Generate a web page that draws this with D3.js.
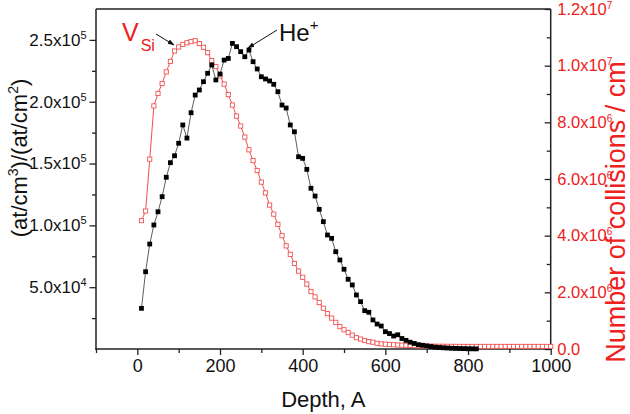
<!DOCTYPE html>
<html>
<head>
<meta charset="utf-8">
<script src="https://cdn.jsdelivr.net/npm/d3@7/dist/d3.min.js"></script>
<style>
  html, body { margin: 0; padding: 0; background: #fff; }
  svg { display: block; font-family: "Liberation Sans", Arial, sans-serif; }
</style>
</head>
<body>
<script>
// ---------------- DATA ----------------
// He+ implanted profile (left axis), depth in Å
const heDepth = [10,20,30,40,50,60,70,80,90,100,110,120,130,140,150,160,170,180,190,200,
  210,220,230,240,250,260,270,280,290,300,310,320,330,340,350,360,370,380,390,400,
  410,420,430,440,450,460,470,480,490,500,510,520,530,540,550,560,570,580,590,600,
  610,620,630,640,650,660,670,680,690,700,710,720,730,740,750,760,770,780,790,800,810,820];
const heValues = [32900,62500,84900,100300,111000,123200,138900,150700,156300,166400,
  181200,170600,191100,205400,209500,216200,223000,229700,217600,222400,
  233700,235000,247200,244500,240500,236400,241800,232400,226500,220200,
  218400,216800,214100,208100,197300,194900,181200,175700,155500,154200,
  145300,130000,123700,113000,103000,92200,89500,78700,72000,64500,
  56400,51800,43700,38300,31000,29700,23500,20200,18600,14000,
  12500,10500,11500,8500,7000,5500,4500,3500,3000,2500,
  2000,1500,1200,1000,800,600,500,400,300,200,150,100];

// V_Si collisions (right axis)
const vsiDepth = [10,20,30,40,50,60,70,80,90,100,110,120,130,140,150,160,170,180,190,200,
  210,220,230,240,250,260,270,280,290,300,310,320,330,340,350,360,370,380,390,400,
  410,420,430,440,450,460,470,480,490,500,510,520,530,540,550,560,570,580,590,600,
  610,620,630,640,650,660,670,680,690,700,710,720,730,740,750,760,770,780,790,800,
  810,820,830,840,850,860,870,880,890,900,910,920,930,940,950,960,970,980,990,1000];
const vsiValues = [4.53e6,4.87e6,6.70e6,8.58e6,9.02e6,9.37e6,9.78e6,1.015e7,1.052e7,1.066e7,
  1.075e7,1.081e7,1.085e7,1.088e7,1.078e7,1.065e7,1.046e7,1.018e7,9.97e6,9.64e6,
  9.35e6,8.98e6,8.61e6,8.22e6,7.87e6,7.48e6,7.03e6,6.65e6,6.30e6,5.89e6,
  5.51e6,5.08e6,4.76e6,4.40e6,4.00e6,3.64e6,3.34e6,3.02e6,2.75e6,2.53e6,
  2.29e6,2.03e6,1.84e6,1.64e6,1.44e6,1.25e6,1.09e6,9.4e5,7.9e5,6.8e5,
  5.8e5,4.9e5,4.0e5,3.5e5,3.0e5,2.6e5,2.4e5,2.0e5,1.8e5,1.7e5,
  1.6e5,1.5e5,1.4e5,1.35e5,1.3e5,1.25e5,1.2e5,1.15e5,1.1e5,1.05e5,
  1.0e5,9.8e4,9.6e4,9.5e4,9.4e4,9.3e4,9.2e4,9.1e4,9.0e4,9.0e4,
  9.0e4,9.0e4,9.0e4,9.0e4,9.0e4,9.0e4,9.0e4,9.0e4,9.0e4,9.0e4,
  9.0e4,9.0e4,9.0e4,9.0e4,9.0e4,9.0e4,9.0e4,9.0e4,9.0e4,9.0e4];

// Tick values / labels
const xMajorTicks = [0,200,400,600,800,1000];
const xMinorTicks = [-100,100,300,500,700,900];
const leftMajorTicks = [5e4,1e5,1.5e5,2e5,2.5e5];
const leftMantissa = ["5.0","1.0","1.5","2.0","2.5"];
const leftExponent = ["4","5","5","5","5"];
const leftMinorTicks = [2.5e4,7.5e4,1.25e5,1.75e5,2.25e5];
const rightMajorTicks = [0,2e6,4e6,6e6,8e6,1e7,1.2e7];
const rightMantissa = ["0.0","2.0","4.0","6.0","8.0","1.0","1.2"];
const rightExponent = ["","6","6","6","6","7","7"];
const rightMinorTicks = [1e6,3e6,5e6,7e6,9e6,1.1e7];

// ---------------- LAYOUT ----------------
const W = 630, H = 414;
const L = 96, R = 550.7, T = 9, B = 349;
const RED = "#ee2020";
const MARKRED = "#f05454";

const svg = d3.select("body").append("svg").attr("width", W).attr("height", H);

const x = d3.scaleLinear().domain([-100, 1000]).range([L, R]);
const yL = d3.scaleLinear().domain([0, 2.75e5]).range([B, T]);
const yR = d3.scaleLinear().domain([0, 1.2e7]).range([B, T]);

function supLabels(sel, mant, exp, supSize, raise) {
  sel.selectAll(".tick text").each(function(d, i) {
    const t = d3.select(this);
    t.text(null);
    t.append("tspan").text(mant[i]);
    if (exp[i] !== "") {
      t.append("tspan").text("x10");
      t.append("tspan").attr("dy", -raise).attr("font-size", supSize).text(exp[i]);
    }
  });
}

// Bottom axis
const gxMaj = svg.append("g").attr("transform", `translate(0,${B})`)
  .call(d3.axisBottom(x).tickValues(xMajorTicks).tickSize(6).tickPadding(4).tickFormat(d3.format("d")));
const gxMin = svg.append("g").attr("transform", `translate(0,${B})`)
  .call(d3.axisBottom(x).tickValues(xMinorTicks).tickSize(4).tickFormat(""));
// Top frame
svg.append("line").attr("x1", L).attr("x2", R).attr("y1", T).attr("y2", T)
  .attr("stroke", "#222").attr("stroke-width", 1.5);

// Left axis
const gyMaj = svg.append("g").attr("transform", `translate(${L},0)`)
  .call(d3.axisLeft(yL).tickValues(leftMajorTicks).tickSize(6.5).tickPadding(3));
const gyMin = svg.append("g").attr("transform", `translate(${L},0)`)
  .call(d3.axisLeft(yL).tickValues(leftMinorTicks).tickSize(4).tickFormat(""));

// Right axis (ticks inward)
const grMaj = svg.append("g").attr("transform", `translate(${R},0)`)
  .call(d3.axisRight(yR).tickValues(rightMajorTicks).tickSize(-6).tickPadding(6.5));
const grMin = svg.append("g").attr("transform", `translate(${R},0)`)
  .call(d3.axisRight(yR).tickValues(rightMinorTicks).tickSize(-4).tickFormat(""));

[gxMaj, gxMin, gyMaj, gyMin, grMaj, grMin].forEach(g => {
  g.selectAll(".domain").remove();
  g.selectAll(".tick line").attr("stroke", "#222").attr("stroke-width", 1.3);
  g.selectAll(".tick text").attr("font-size", 17).attr("font-family", "'Liberation Sans', Arial, sans-serif");
});
supLabels(gyMaj, leftMantissa, leftExponent, 11, 7);
supLabels(grMaj, rightMantissa, rightExponent, 10, 6);
gxMaj.selectAll(".tick text").attr("fill", "#111").attr("font-size", 18);
gyMaj.selectAll(".tick text").attr("fill", "#111");
grMaj.selectAll(".tick text").attr("fill", RED).attr("font-size", 16.5);

// axis lines
svg.append("line").attr("x1", L).attr("x2", L).attr("y1", T).attr("y2", B + 0.7).attr("stroke", "#222").attr("stroke-width", 1.5);
svg.append("line").attr("x1", R).attr("x2", R).attr("y1", T).attr("y2", B + 0.7).attr("stroke", "#222").attr("stroke-width", 1.5);
svg.append("line").attr("x1", L - 0.7).attr("x2", R + 0.7).attr("y1", B).attr("y2", B).attr("stroke", "#222").attr("stroke-width", 1.5);

// ---------------- SERIES ----------------
const heData = heDepth.map((d, i) => ({ d, v: heValues[i] }));
const vsiData = vsiDepth.map((d, i) => ({ d, v: vsiValues[i] }));

// V_Si (red, open squares)
svg.append("path").datum(vsiData)
  .attr("d", d3.line().x(p => x(p.d)).y(p => yR(p.v)))
  .attr("fill", "none").attr("stroke", RED).attr("stroke-width", 0.8);
const ms = 4.2;
svg.append("g").selectAll("rect").data(vsiData).join("rect")
  .attr("x", p => x(p.d) - ms / 2).attr("y", p => yR(p.v) - ms / 2)
  .attr("width", ms).attr("height", ms)
  .attr("fill", "#fff").attr("stroke", MARKRED).attr("stroke-width", 0.9);

// He+ (black, filled squares)
svg.append("path").datum(heData)
  .attr("d", d3.line().x(p => x(p.d)).y(p => yL(p.v)))
  .attr("fill", "none").attr("stroke", "#333").attr("stroke-width", 0.8);
const bs = 4.8;
svg.append("g").selectAll("rect").data(heData).join("rect")
  .attr("x", p => x(p.d) - bs / 2).attr("y", p => yL(p.v) - bs / 2)
  .attr("width", bs).attr("height", bs)
  .attr("fill", "#000");

// ---------------- TITLES ----------------
svg.append("text").attr("x", (L + R) / 2).attr("y", 407).attr("text-anchor", "middle")
  .attr("font-size", 22).attr("fill", "#111").text("Depth, A");

const lt = svg.append("text").attr("transform", `translate(27,158) rotate(-90)`)
  .attr("text-anchor", "middle").attr("font-size", 22).attr("fill", "#111");
lt.append("tspan").text("(at/cm");
lt.append("tspan").attr("dy", -9).attr("font-size", 14).text("3");
lt.append("tspan").attr("dy", 9).text(")/(at/cm");
lt.append("tspan").attr("dy", -9).attr("font-size", 14).text("2");
lt.append("tspan").attr("dy", 9).text(")");

svg.append("text").attr("transform", `translate(624.5,212) rotate(-90)`)
  .attr("text-anchor", "middle").attr("font-size", 27).attr("fill", RED)
  .text("Number of collisions / cm");

// annotations
const vt = svg.append("text").attr("x", 122).attr("y", 41).attr("fill", RED);
vt.append("tspan").attr("font-size", 25).text("V");
vt.append("tspan").attr("font-size", 16).attr("dy", 10).attr("dx", 2).text("Si");

const ht = svg.append("text").attr("x", 279).attr("y", 41).attr("fill", "#111");
ht.append("tspan").attr("font-size", 24).text("He");
ht.append("tspan").attr("font-size", 15).attr("dy", -11).text("+");

svg.append("defs").append("marker").attr("id", "ah")
  .attr("viewBox", "0 0 10 10").attr("refX", 9).attr("refY", 5)
  .attr("markerWidth", 7).attr("markerHeight", 7).attr("orient", "auto")
  .append("path").attr("d", "M0,1.5 L10,5 L0,8.5 Z").attr("fill", "#111");

svg.append("line").attr("x1", 156).attr("y1", 34).attr("x2", 174).attr("y2", 45)
  .attr("stroke", "#111").attr("stroke-width", 1).attr("marker-end", "url(#ah)");
svg.append("line").attr("x1", 277).attr("y1", 30).attr("x2", 248).attr("y2", 48)
  .attr("stroke", "#111").attr("stroke-width", 1).attr("marker-end", "url(#ah)");
</script>
</body>
</html>
